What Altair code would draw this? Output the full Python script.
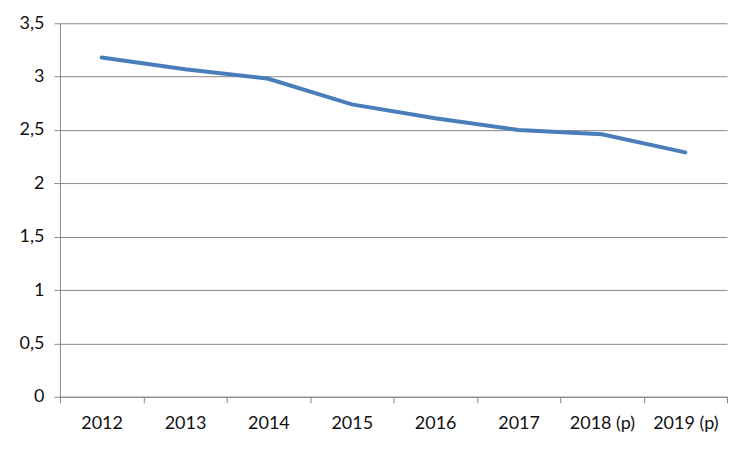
import altair as alt
import pandas as pd

years = ["2012", "2013", "2014", "2015", "2016", "2017", "2018 (p)", "2019 (p)"]
values = [3.18, 3.07, 2.98, 2.74, 2.61, 2.50, 2.46, 2.29]
y_ticks = [0, 0.5, 1, 1.5, 2, 2.5, 3, 3.5]

df = pd.DataFrame({"year": years, "value": values})

chart = alt.Chart(df).mark_line(color="#4A7EBB", strokeWidth=4, strokeCap="round").encode(
    x=alt.X("year:N", sort=years, bandPosition=0.5,
            scale=alt.Scale(type="band", paddingInner=0, paddingOuter=0),
            axis=alt.Axis(title=None, labelAngle=0, tickBand="extent", domainColor="#888888",
                          tickColor="#888888", tickSize=6, labelPadding=12, grid=False,
                          labelOverlap=False, labelBound=False,
                          labelFont="Lato", labelFontSize=18, labelColor="#111111")),
    y=alt.Y("value:Q", scale=alt.Scale(domain=[0, 3.5], nice=False),
            axis=alt.Axis(title=None, values=y_ticks, grid=True, gridColor="#888888",
                          domainColor="#888888", tickColor="#888888", tickSize=6,
                          labelPadding=10, labelFont="Lato", labelFontSize=18, labelColor="#111111",
                          labelExpr="replace(toString(datum.value), '.', ',')")),
).properties(
    width=668, height=374,
    autosize=alt.AutoSizeParams(type="none"),
    padding={"left": 52, "top": 15, "right": 15, "bottom": 45},
).configure_view(stroke=None)

chart.save("out.html", embed_options={"renderer": "svg", "actions": False})
